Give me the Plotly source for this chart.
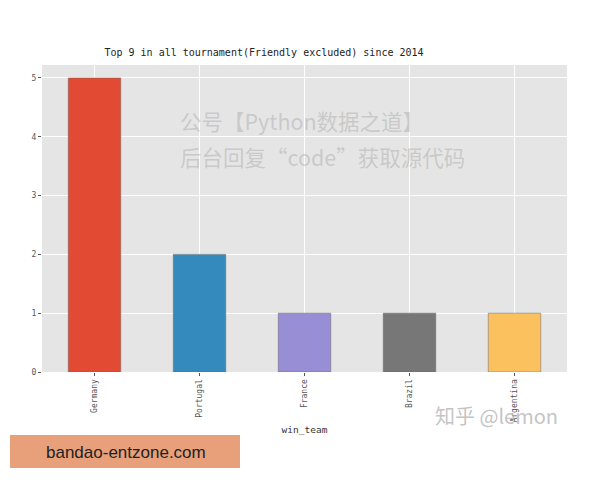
import plotly.graph_objects as go

teams = ["Germany", "Portugal", "France", "Brazil", "Argentina"]
wins = [5, 2, 1, 1, 1]
colors = ["#E24A33", "#348ABD", "#988ED5", "#777777", "#FBC15E"]
y_ticks = [0, 1, 2, 3, 4, 5]

fig = go.Figure()
fig.add_trace(go.Bar(
    x=teams, y=wins, width=0.5,
    marker=dict(color=colors, line=dict(color="#666666", width=0.5)),
))

mono = "DejaVu Sans Mono, monospace"
OFF = 8  # page body margin
L, T, PW, PH = 42 - OFF, 65 - OFF, 525, 307
fig.update_layout(
    width=600, height=480,
    margin=dict(l=L, r=600 - L - PW, t=T, b=480 - T - PH),
    paper_bgcolor="white", plot_bgcolor="#E5E5E5",
    showlegend=False,
    title=dict(text="Top 9 in all tournament(Friendly excluded) since 2014",
               x=(264 - OFF) / 600, xanchor="center", y=1 - (52 - OFF) / 480, yanchor="middle",
               font=dict(family=mono, size=10, color="#222222")),
    xaxis=dict(range=[-0.5, 4.5], tickangle=-90, showgrid=True, gridcolor="white",
               gridwidth=1, ticks="outside", ticklen=3, tickcolor="#555555",
               tickfont=dict(family=mono, size=8, color="#555555"),
               title=dict(text="win_team", font=dict(family=mono, size=9.5, color="#333333"),
                          standoff=4),
               zeroline=False, automargin=False),
    yaxis=dict(range=[0, 5.22], tickvals=y_ticks, showgrid=True, gridcolor="white",
               gridwidth=1, ticks="outside", ticklen=3, tickcolor="#555555",
               tickfont=dict(family=mono, size=8, color="#555555"),
               zeroline=False, automargin=False),
)

wm_font = dict(family="Noto Sans CJK SC", size=21.5, color="rgba(165,165,165,0.45)")
fig.add_annotation(text="公号【Python数据之道】", xref="paper", yref="paper",
                   x=(178 - 42) / 525, y=(372 - 120) / 307, xanchor="left", yanchor="middle",
                   showarrow=False, font=wm_font)
fig.add_annotation(text="后台回复“code”获取源代码", xref="paper", yref="paper",
                   x=(178 - 42) / 525, y=(372 - 156) / 307, xanchor="left", yanchor="middle",
                   showarrow=False, font=wm_font)
fig.add_annotation(text="知乎 @lemon", xref="paper", yref="paper",
                   x=(496 - 42) / 525, y=(372 - 415) / 307, xanchor="center", yanchor="middle",
                   showarrow=False,
                   font=dict(family="Noto Sans CJK SC", size=20, color="rgba(180,180,180,0.8)"))
fig.add_shape(type="rect", xref="paper", yref="paper",
              x0=(10 - 42) / 525, x1=(240 - 42) / 525,
              y0=(372 - 468) / 307, y1=(372 - 435) / 307,
              fillcolor="#E8A07A", line=dict(width=0), layer="above")
fig.add_annotation(text="bandao-entzone.com", xref="paper", yref="paper",
                   x=(126 - 42) / 525, y=(372 - 452) / 307, xanchor="center", yanchor="middle",
                   showarrow=False,
                   font=dict(family="Liberation Sans, Arial", size=17, color="#222222"))

fig.write_html("out.html")
